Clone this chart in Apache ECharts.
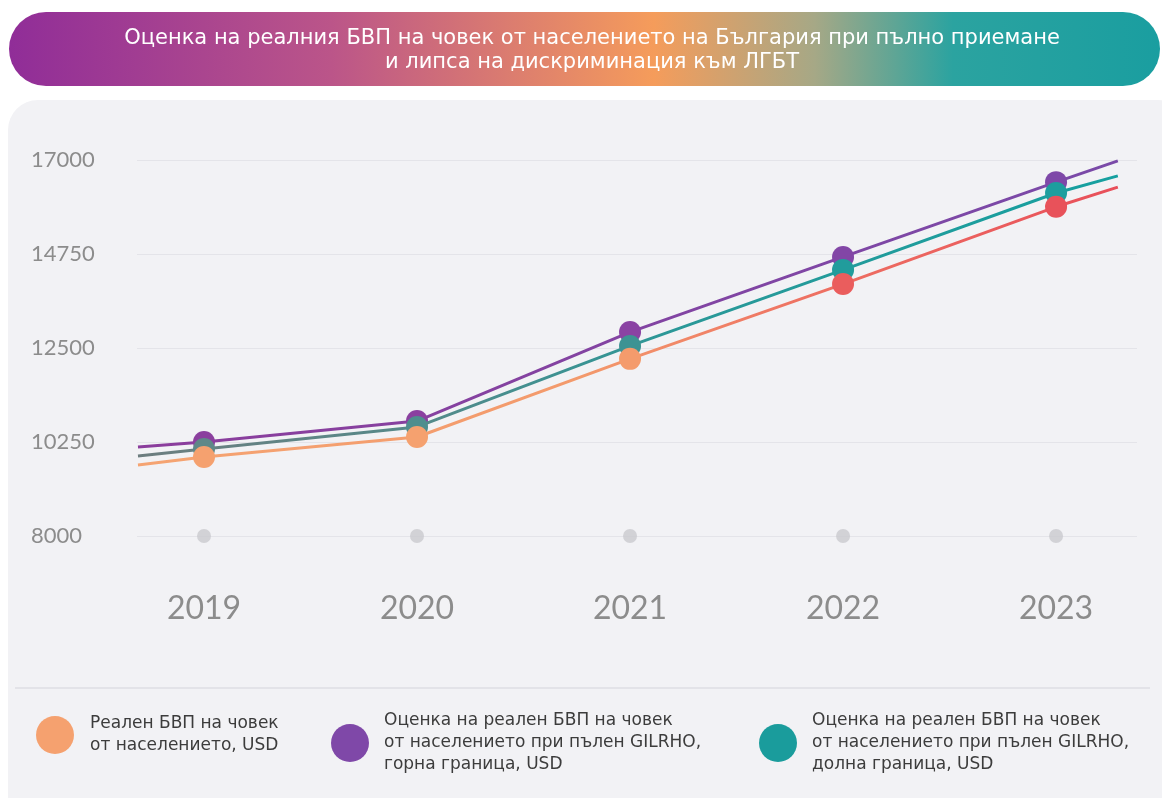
<!DOCTYPE html>
<html>
<head>
<meta charset="utf-8">
<script src="https://cdn.jsdelivr.net/npm/echarts@6/dist/echarts.min.js"></script>
<style>
html, body { margin: 0; padding: 0; background: #fff; }
#chart { width: 1162px; height: 798px; }
</style>
</head>
<body>
<div id="chart"></div>
<script>
// години и стойности (USD на човек)
var years = [2019, 2020, 2021, 2022, 2023];
var realGdp = [9890, 10370, 12240, 14030, 15880];
var upperGdp = [10250, 10750, 12880, 14680, 16470];
var lowerGdp = [10080, 10610, 12550, 14370, 16210];
var baseline = [8000, 8000, 8000, 8000, 8000];

// линиите продължават малко преди 2019 и след 2023
var lineStartX = 2018.69, lineEndX = 2023.29;
var realEnds = [9700, 16350];
var upperEnds = [10130, 16980];
var lowerEnds = [9915, 16620];

var yMin = 8000, yMax = 17000, yStep = 2250;

var title = 'Оценка на реалния БВП на човек от населението на България при пълно приемане\nи липса на дискриминация към ЛГБТ';
var names = [
    'Реален БВП на човек\nот населението, USD',
    'Оценка на реален БВП на човек\nот населението при пълен GILRHO,\nгорна граница, USD',
    'Оценка на реален БВП на човек\nот населението при пълен GILRHO,\nдолна граница, USD'
];

// цветове
var realDots = ['#f5a16f', '#f5a16f', '#f49b6c', '#ea5d5d', '#e8525a'];
var upperDots = ['#8b3f9e', '#8b40a0', '#8a42a3', '#8246a6', '#7e48a8'];
var lowerDots = ['#5f8888', '#4f8e8e', '#3d9393', '#219c9c', '#1d9e9e'];

function grad(stops) {
    return new echarts.graphic.LinearGradient(0, 0, 1, 0, stops.map(function (s) {
        return {offset: s[0], color: s[1]};
    }));
}

function buildLine(vals, ends, dots) {
    var out = [{value: [lineStartX, ends[0]], symbol: 'none'}];
    years.forEach(function (yr, i) {
        out.push({value: [yr, vals[i]], itemStyle: {color: dots[i]}});
    });
    out.push({value: [lineEndX, ends[1]], symbol: 'none'});
    return out;
}

var font = '"DejaVu Sans", sans-serif';
var legendText = {fontFamily: font, fontSize: 17, color: '#3c3c3c', lineHeight: 22};

var chart = echarts.init(document.getElementById('chart'));
chart.setOption({
    animation: false,
    backgroundColor: '#fff',
    graphic: [
        {type: 'rect', z: -10, shape: {x: 8, y: 100, width: 1180, height: 740, r: 30},
            style: {fill: '#f2f2f5'}},
        {type: 'rect', z: -5, shape: {x: 9, y: 12, width: 1151, height: 74, r: 37},
            style: {fill: grad([[0, '#902d98'], [0.28, '#bb5589'], [0.56, '#f59c5b'],
                [0.7, '#a6a886'], [0.82, '#2ba3a0'], [1, '#1a9ea0']])}},
        {type: 'text', z: 10, x: 592, y: 51,
            style: {text: title, fill: '#fff', font: '21px ' + font, textAlign: 'center',
                textVerticalAlign: 'middle', lineHeight: 24}},
        {type: 'line', z: -5, shape: {x1: 15, y1: 688, x2: 1150, y2: 688},
            style: {stroke: '#e3e3e8', lineWidth: 2}}
    ],
    grid: {left: 137, right: 25, top: 160, bottom: 262},
    xAxis: {
        type: 'value',
        min: 2018.6854,
        max: 2023.38,
        axisLine: {show: false},
        axisTick: {show: false},
        splitLine: {show: false},
        axisLabel: {
            customValues: years,
            formatter: function (v) { return String(v); },
            color: '#8c8c8c',
            fontFamily: 'Lato, sans-serif',
            fontSize: 32,
            margin: 57,
            verticalAlign: 'top'
        }
    },
    yAxis: {
        type: 'value',
        min: yMin,
        max: yMax,
        interval: yStep,
        axisLine: {show: false},
        axisTick: {show: false},
        splitLine: {lineStyle: {color: '#e4e4e9', width: 1}},
        axisLabel: {
            formatter: function (v) { return String(v); },
            color: '#8c8c8c',
            fontFamily: 'Lato, sans-serif',
            fontSize: 22,
            align: 'left',
            margin: 106
        }
    },
    legend: [
        {left: 31, top: 704, icon: 'circle', itemWidth: 38, itemHeight: 38, selectedMode: false,
            data: [{name: names[0], itemStyle: {color: '#f5a16f'}}],
            textStyle: Object.assign({padding: [8, 0, 0, 11]}, legendText)},
        {left: 326, top: 698, icon: 'circle', itemWidth: 38, itemHeight: 38, selectedMode: false,
            data: [{name: names[1], itemStyle: {color: '#7f48a8'}}],
            textStyle: Object.assign({padding: [14, 0, 0, 10]}, legendText)},
        {left: 754, top: 698, icon: 'circle', itemWidth: 38, itemHeight: 38, selectedMode: false,
            data: [{name: names[2], itemStyle: {color: '#1a9c9c'}}],
            textStyle: Object.assign({padding: [14, 0, 0, 10]}, legendText)}
    ],
    series: [
        {
            name: 'base', type: 'scatter', symbolSize: 14, silent: true,
            itemStyle: {color: '#c9c9ce'},
            data: years.map(function (yr, i) { return [yr, baseline[i]]; })
        },
        {
            name: names[1], type: 'line', symbol: 'circle', symbolSize: 22, z: 3,
            lineStyle: {width: 3, color: grad([[0, '#8b3d9c'], [1, '#7a4aa8']])},
            itemStyle: {color: '#7f48a8'},
            data: buildLine(upperGdp, upperEnds, upperDots)
        },
        {
            name: names[2], type: 'line', symbol: 'circle', symbolSize: 22, z: 4,
            lineStyle: {width: 3, color: grad([[0, '#6d7d7f'], [0.3, '#548a8a'], [0.55, '#2a9898'], [1, '#16a0a0']])},
            itemStyle: {color: '#1a9c9c'},
            data: buildLine(lowerGdp, lowerEnds, lowerDots)
        },
        {
            name: names[0], type: 'line', symbol: 'circle', symbolSize: 22, z: 5,
            lineStyle: {width: 3, color: grad([[0, '#f5a472'], [0.45, '#f39a6c'], [0.68, '#ee7263'], [1, '#e84f5a']])},
            itemStyle: {color: '#f5a16f'},
            data: buildLine(realGdp, realEnds, realDots)
        }
    ]
});
</script>
</body>
</html>
